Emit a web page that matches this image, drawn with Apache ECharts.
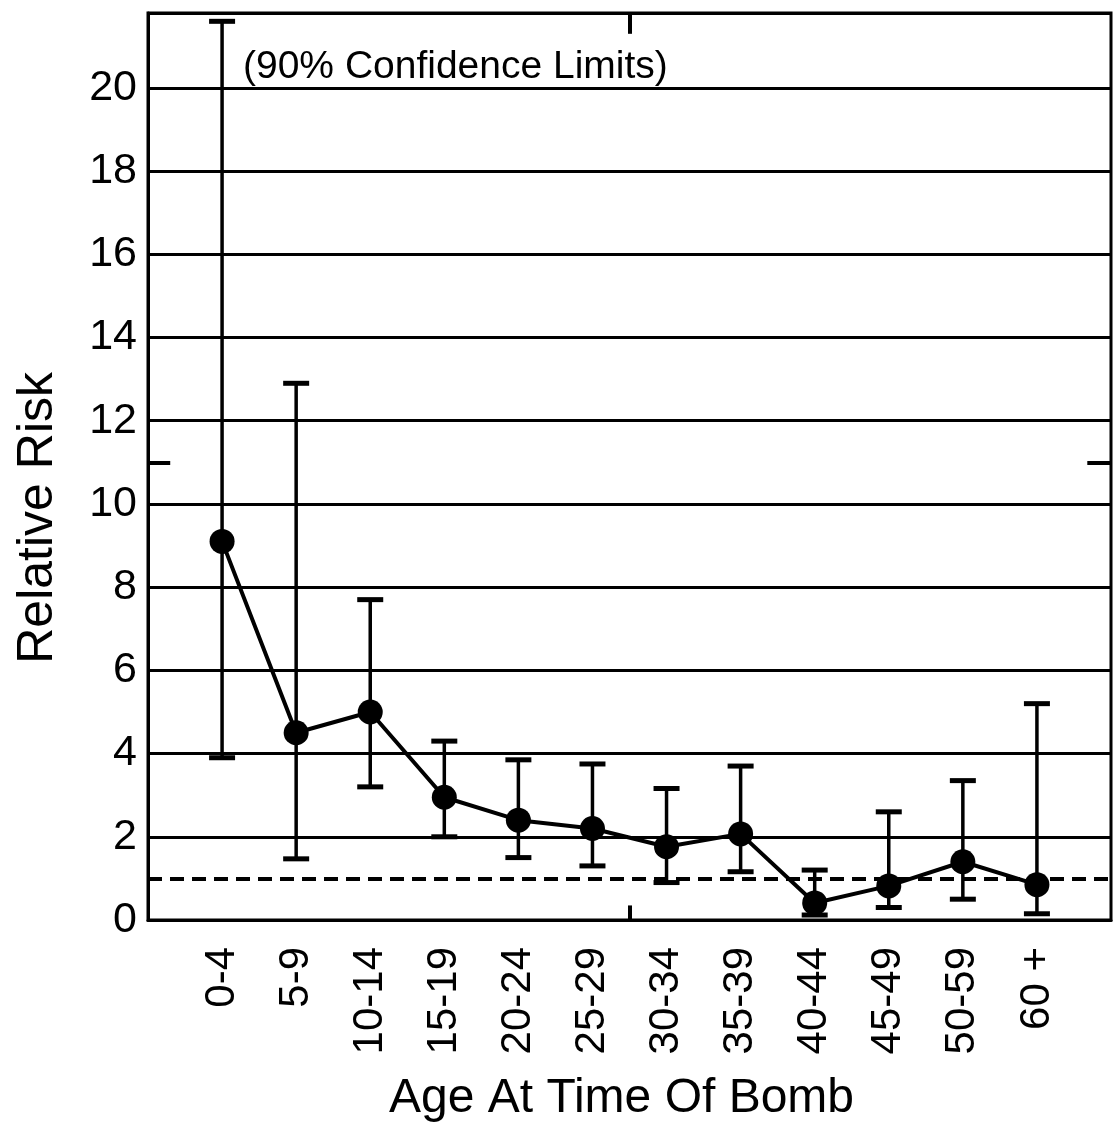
<!DOCTYPE html>
<html>
<head>
<meta charset="utf-8">
<script src="https://cdn.jsdelivr.net/npm/echarts@6/dist/echarts.min.js"></script>
<style>html,body{margin:0;padding:0;background:#fff}#c{width:1116px;height:1128px}</style>
</head>
<body>
<div id="c"></div>
<script>
const categories = ['0-4','5-9','10-14','15-19','20-24','25-29','30-34','35-39','40-44','45-49','50-59','60 +'];
const relativeRisk = [9.1, 4.5, 5.0, 2.95, 2.4, 2.2, 1.76, 2.07, 0.41, 0.82, 1.4, 0.85];
const upperLimit = [21.6, 12.9, 7.7, 4.3, 3.85, 3.75, 3.16, 3.7, 1.2, 2.6, 3.35, 5.2];
const lowerLimit = [3.9, 1.47, 3.2, 2.0, 1.5, 1.3, 0.9, 1.16, 0.12, 0.3, 0.5, 0.15];
const referenceLevel = 1;
const yTickValues = [0, 2, 4, 6, 8, 10, 12, 14, 16, 18, 20];

const chart = echarts.init(document.getElementById('c'), null, {renderer: 'canvas'});
const tickFont = 'Liberation Sans, Arial, sans-serif';
const titleFont = 'Liberation Sans, Arial, sans-serif';

const pointData = relativeRisk.map((v, i) => [i + 1, v]);
const barData = categories.map((c, i) => [i + 1, upperLimit[i], lowerLimit[i]]);

chart.setOption({
  animation: false,
  backgroundColor: '#fff',
  grid: {left: 148, right: 5, top: 13, bottom: 208, show: true, borderColor: '#000', borderWidth: 3},
  title: {
    text: '(90% Confidence Limits)', left: 238, top: 43,
    textStyle: {fontFamily: titleFont, fontSize: 39, fontWeight: 'normal', color: '#000'}
  },
  graphic: [{
    type: 'text', left: 13, top: 372, rotation: Math.PI / 2,
    style: {text: 'Relative Risk', font: '50px ' + titleFont, fill: '#000'}
  }],
  xAxis: {
    type: 'value', min: 0, max: 13, interval: 1,
    name: 'Age At Time Of Bomb', nameLocation: 'middle', nameGap: 155,
    nameTextStyle: {fontFamily: titleFont, fontSize: 48, color: '#000', padding: [0, 16, 0, 0]},
    axisLine: {show: true, lineStyle: {color: '#000', width: 3}},
    axisTick: {show: false},
    splitLine: {show: false},
    axisLabel: {
      rotate: 90, margin: 27, fontFamily: tickFont, fontSize: 42, color: '#000',
      formatter: v => categories[v - 1] || ''
    }
  },
  yAxis: {
    type: 'value', min: 0, max: 21.8, interval: 2,
    axisLine: {show: true, lineStyle: {color: '#000', width: 3}},
    axisTick: {show: false},
    splitLine: {show: true, lineStyle: {color: '#000', width: 3}},
    axisLabel: {
      margin: 11, fontFamily: tickFont, fontSize: 43, color: '#000',
      formatter: v => yTickValues.indexOf(v) >= 0 ? String(v) : ''
    }
  },
  series: [
    {
      type: 'custom', z: 3,
      data: barData,
      renderItem: function (params, api) {
        const x = api.value(0);
        const top = api.coord([x, api.value(1)]);
        const bot = api.coord([x, api.value(2)]);
        const hw = 13;
        return {
          type: 'group',
          children: [
            {type: 'line', shape: {x1: top[0], y1: top[1], x2: bot[0], y2: bot[1]}, style: {stroke: '#000', lineWidth: 3.5}},
            {type: 'line', shape: {x1: top[0] - hw, y1: top[1], x2: top[0] + hw, y2: top[1]}, style: {stroke: '#000', lineWidth: 5}},
            {type: 'line', shape: {x1: bot[0] - hw, y1: bot[1], x2: bot[0] + hw, y2: bot[1]}, style: {stroke: '#000', lineWidth: 5}}
          ]
        };
      }
    },
    {
      type: 'line', z: 5,
      data: pointData,
      symbol: 'circle', symbolSize: 25,
      itemStyle: {color: '#000'},
      lineStyle: {color: '#000', width: 4},
      markLine: {
        silent: true, symbol: 'none', label: {show: false},
        data: [
          {yAxis: referenceLevel, lineStyle: {color: '#000', width: 4, type: [14, 8]}},
          [{coord: [0, 11]}, {coord: [0.3, 11]}],
          [{coord: [12.68, 11]}, {coord: [13, 11]}],
          [{coord: [6.5, 21.8]}, {coord: [6.5, 21.3]}],
          [{coord: [6.5, 0.35]}, {coord: [6.5, 0]}]
        ],
        lineStyle: {color: '#000', width: 4, type: 'solid'}
      }
    }
  ]
});
</script>
</body>
</html>
